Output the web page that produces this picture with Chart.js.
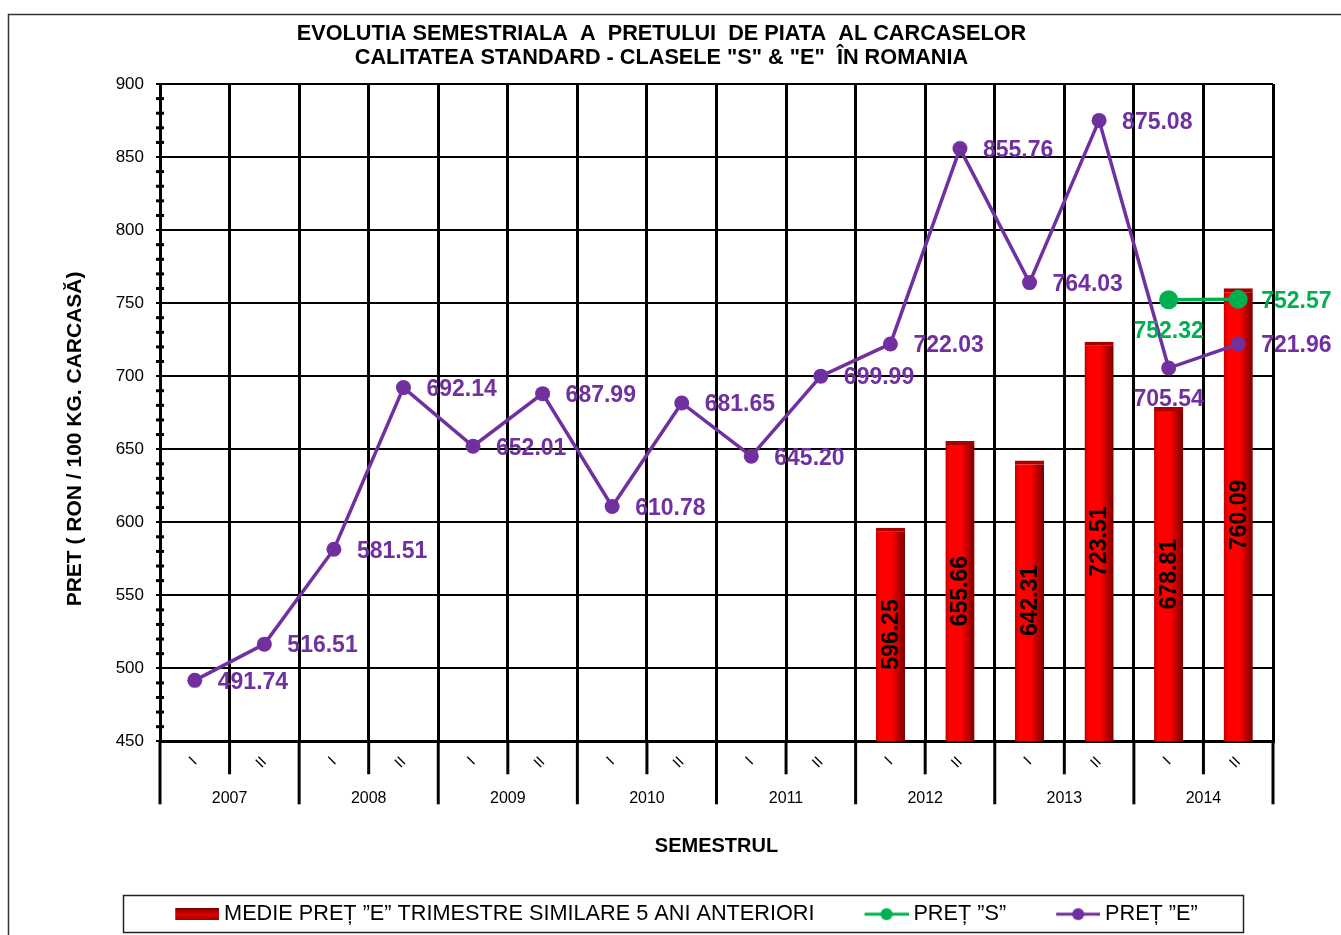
<!DOCTYPE html>
<html>
<head>
<meta charset="utf-8">
<script src="https://cdn.jsdelivr.net/npm/chart.js@4.4.1/dist/chart.umd.min.js"></script>
<style>
  html, body { margin: 0; padding: 0; background: #fff; }
  canvas { display: block; }
</style>
</head>
<body>
<canvas id="grafic" width="1341" height="935"></canvas>
<script>
// === DATE ===
const semestre = ["I", "II", "I", "II", "I", "II", "I", "II", "I", "II", "I", "II", "I", "II", "I", "II"];
const ani = ["2007", "2008", "2009", "2010", "2011", "2012", "2013", "2014"];

const medieE = [null, null, null, null, null, null, null, null, null, null,
  596.25, 655.66, 642.31, 723.51, 678.81, 760.09];
const pretS = [null, null, null, null, null, null, null, null, null, null,
  null, null, null, null, 752.32, 752.57];
const pretE = [491.74, 516.51, 581.51, 692.14, 652.01, 687.99, 610.78, 681.65,
  645.20, 699.99, 722.03, 855.76, 764.03, 875.08, 705.54, 721.96];

const axaY = { min: 450, max: 900, pas: 50, pasMic: 10 };

const titlu = [
  "EVOLUTIA SEMESTRIALA  A  PRETULUI  DE PIATA  AL CARCASELOR",
  "CALITATEA STANDARD - CLASELE \"S\" & \"E\"  ÎN ROMANIA"
];

// === STIL ===
const FONT = '"Liberation Sans", Arial, sans-serif';
const MOV = "#7030a0";
const VERDE = "#00b050";
const PAD_L = 50;

Chart.defaults.font.family = FONT;
Chart.defaults.color = "#000";

// gradient orizontal pentru fiecare bara
function gradientBara(c) {
  const chart = c.chart;
  const x = chart.scales && chart.scales.x;
  if (!x || c.type !== "data") return "#ff0000";
  const xc = x.getPixelForValue(c.dataIndex);
  const w = (x.right - x.left) / semestre.length * 0.42;
  if (!isFinite(xc) || !isFinite(w) || w <= 0) return "#ff0000";
  const g = chart.ctx.createLinearGradient(xc - w / 2, 0, xc + w / 2, 0);
  g.addColorStop(0, "#c00000");
  g.addColorStop(0.15, "#ff0000");
  g.addColorStop(0.55, "#ff0000");
  g.addColorStop(1, "#780000");
  return g;
}

// iconite legenda (zona transparenta in stanga = spatiu intre elemente)
function iconLinie(culoare, raza) {
  const cv = document.createElement("canvas");
  cv.width = 100; cv.height = 16;
  const g = cv.getContext("2d");
  g.strokeStyle = culoare; g.lineWidth = 3;
  g.beginPath(); g.moveTo(56, 8); g.lineTo(100, 8); g.stroke();
  g.fillStyle = culoare;
  g.beginPath(); g.arc(78, 8, raza, 0, Math.PI * 2); g.fill();
  return cv;
}
function iconBara() {
  const cv = document.createElement("canvas");
  cv.width = 100; cv.height = 12;
  const g = cv.getContext("2d");
  const gr = g.createLinearGradient(0, 0, 0, 12);
  gr.addColorStop(0, "#7a0000");
  gr.addColorStop(0.5, "#e00000");
  gr.addColorStop(1, "#a00000");
  g.fillStyle = gr;
  g.fillRect(56, 0, 44, 12);
  return cv;
}
const iconite = [iconBara(), iconLinie(VERDE, 6), iconLinie(MOV, 6)];

// === PLUGINURI ===
const fundal = {
  id: "fundal",
  beforeDraw(chart) {
    const { ctx, width, height } = chart;
    ctx.save();
    ctx.fillStyle = "#fff";
    ctx.fillRect(0, 0, width, height);
    ctx.strokeStyle = "#333";
    ctx.lineWidth = 1.5;
    ctx.beginPath();
    ctx.moveTo(8.5, height + 5);
    ctx.lineTo(8.5, 14.5);
    ctx.lineTo(width + 5, 14.5);
    ctx.stroke();
    ctx.restore();
  }
};

const detaliiAxe = {
  id: "detaliiAxe",
  afterDraw(chart) {
    const { ctx, chartArea, scales } = chart;
    const x = scales.x, y = scales.y;
    ctx.save();
    // linii verticale sub axa: semestre scurte, ani lungi
    ctx.strokeStyle = "#000";
    ctx.lineWidth = 3;
    const n = semestre.length;
    const pas = (x.getPixelForValue(n - 1) - x.getPixelForValue(0)) / (n - 1);
    for (let i = 0; i <= n; i++) {
      const px = x.getPixelForValue(0) - pas / 2 + i * pas;
      ctx.beginPath();
      ctx.moveTo(px, chartArea.bottom);
      ctx.lineTo(px, chartArea.bottom + (i % 2 === 0 ? 63 : 33));
      ctx.stroke();
    }
    // gradatii mici pe axa Y
    ctx.fillStyle = "#000";
    for (let v = axaY.min + axaY.pasMic; v < axaY.max; v += axaY.pasMic) {
      if (v % axaY.pas === 0) continue;
      const py = y.getPixelForValue(v);
      ctx.fillRect(chartArea.left - 4, py - 1.5, 8, 3);
    }
    // chenar legenda
    const hb = chart.legend.legendHitBoxes;
    if (hb && hb.length) {
      const st = hb[0].left + 50 - 52;
      const last = hb[hb.length - 1];
      const dr = last.left + last.width + 45;
      ctx.strokeStyle = "#222";
      ctx.lineWidth = 1.5;
      ctx.strokeRect(Math.round(st) + 0.5, 895.5, Math.round(dr - st), 37);
    }
    ctx.restore();
  }
};

const etichete = {
  id: "etichete",
  afterDatasetsDraw(chart) {
    const { ctx, chartArea } = chart;
    ctx.save();
    ctx.font = "bold 23px " + FONT;
    ctx.textBaseline = "middle";

    // valori bare, verticale
    ctx.fillStyle = "#000";
    ctx.textAlign = "center";
    chart.getDatasetMeta(0).data.forEach((el, i) => {
      if (medieE[i] == null) return;
      const baza = Math.min(el.base, chartArea.bottom);
      ctx.save();
      ctx.translate(el.x, (el.y + baza) / 2);
      ctx.rotate(-Math.PI / 2);
      ctx.fillText(medieE[i].toFixed(2), 0, 1);
      ctx.restore();
    });

    // valori linii
    const serii = [
      { idx: 1, valori: pretS, culoare: VERDE, sub: [14] },
      { idx: 2, valori: pretE, culoare: MOV, sub: [14] }
    ];
    serii.forEach((s) => {
      ctx.fillStyle = s.culoare;
      chart.getDatasetMeta(s.idx).data.forEach((pt, i) => {
        if (s.valori[i] == null) return;
        const txt = s.valori[i].toFixed(2);
        if (s.sub.includes(i)) {
          ctx.textAlign = "center";
          ctx.fillText(txt, pt.x, pt.y + 32);
        } else {
          ctx.textAlign = "left";
          ctx.fillText(txt, pt.x + 23, pt.y + 2);
        }
      });
    });
    ctx.restore();
  }
};

// === GRAFIC ===
new Chart(document.getElementById("grafic"), {
  data: {
    labels: semestre,
    datasets: [
      {
        type: "bar",
        label: "MEDIE PREȚ ”E” TRIMESTRE SIMILARE 5 ANI ANTERIORI",
        data: medieE,
        backgroundColor: gradientBara,
        borderColor: "#a80000",
        borderWidth: { top: 4, left: 0, right: 0, bottom: 0 },
        borderSkipped: "bottom",
        barPercentage: 0.42,
        categoryPercentage: 1,
        order: 3
      },
      {
        type: "line",
        label: "PREȚ ”S”",
        data: pretS,
        borderColor: VERDE,
        backgroundColor: VERDE,
        borderWidth: 3.5,
        pointRadius: 9.5,
        pointHoverRadius: 9.5,
        pointBackgroundColor: VERDE,
        pointBorderWidth: 0,
        tension: 0,
        order: 1
      },
      {
        type: "line",
        label: "PREȚ ”E”",
        data: pretE,
        borderColor: MOV,
        backgroundColor: MOV,
        borderWidth: 3.5,
        pointRadius: 7.5,
        pointHoverRadius: 7.5,
        pointBackgroundColor: MOV,
        pointBorderWidth: 0,
        tension: 0,
        order: 2
      }
    ]
  },
  options: {
    responsive: false,
    animation: false,
    layout: { padding: { left: PAD_L, right: 68, top: 0, bottom: 0 } },
    plugins: {
      title: {
        display: true,
        text: titlu,
        color: "#000",
        font: { size: 21.7, weight: "bold", lineHeight: 24 / 21.7 },
        padding: { top: 22, bottom: 14 }
      },
      legend: {
        position: "bottom",
        labels: {
          usePointStyle: true,
          pointStyleWidth: 88,
          padding: 0,
          color: "#000",
          font: { size: 21.7 },
          sort: (a, b) => a.datasetIndex - b.datasetIndex,
          generateLabels(chart) {
            const items = Chart.defaults.plugins.legend.labels.generateLabels(chart);
            items.forEach((it) => { it.pointStyle = iconite[it.datasetIndex]; it.rotation = 0; });
            return items;
          }
        }
      },
      tooltip: { enabled: false }
    },
    scales: {
      x: {
        type: "category",
        offset: true,
        grid: { offset: true, color: "#000", lineWidth: 3, drawTicks: false },
        border: { color: "#000", width: 3 },
        ticks: { autoSkip: false, minRotation: 45, maxRotation: 45, font: { size: 15 }, color: "#000", padding: 12 },
        afterFit: (s) => { s.height = 38; }
      },
      x2: {
        type: "category",
        labels: ani,
        position: "bottom",
        offset: true,
        weight: 1,
        grid: { display: false, drawTicks: false },
        border: { display: false },
        ticks: { autoSkip: false, maxRotation: 0, font: { size: 16 }, color: "#000", padding: 10 },
        title: {
          display: true,
          text: "SEMESTRUL",
          color: "#000",
          font: { size: 20, weight: "bold" },
          padding: { top: 0, bottom: 45 }
        },
        afterFit: (s) => { s.height = 124; }
      },
      y: {
        min: axaY.min,
        max: axaY.max,
        ticks: { stepSize: axaY.pas, font: { size: 17 }, color: "#000", padding: 12 },
        grid: { color: "#000", lineWidth: 2, drawTicks: true, tickLength: 4, tickColor: "#000", tickWidth: 2 },
        border: { color: "#000", width: 3 },
        title: {
          display: true,
          text: "PRET ( RON / 100 KG. CARCASĂ)         ",
          color: "#000",
          font: { size: 21, weight: "bold" },
          padding: { top: 62.4 - PAD_L, bottom: 0 }
        },
        afterFit: (s) => { s.width = 160 - PAD_L; }
      }
    }
  },
  plugins: [fundal, detaliiAxe, etichete]
});
</script>
</body>
</html>
